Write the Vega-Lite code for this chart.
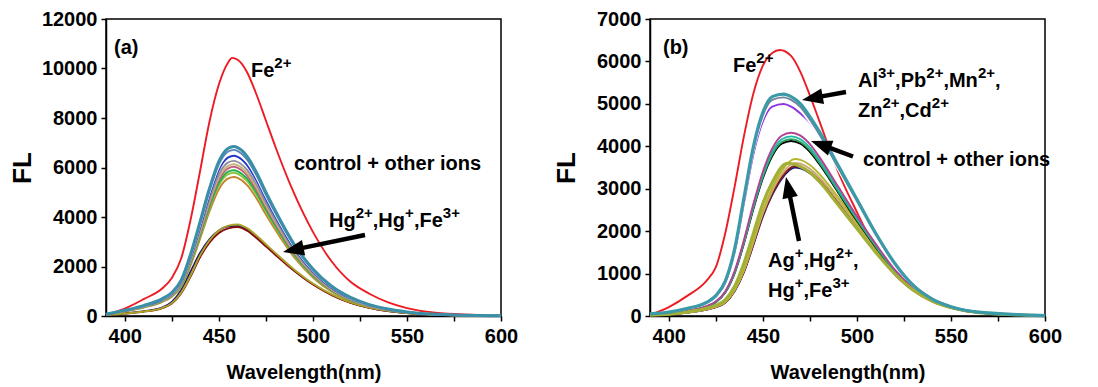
{
"$schema": "https://vega.github.io/schema/vega-lite/v6.json",
"background": "white",
"padding": {"left": 8, "top": 8, "right": 5, "bottom": 5},
"bounds": "flush",
"spacing": 149,
"resolve": {"scale": {"color": "independent", "x": "independent", "y": "independent"}},
"config": {
  "view": {"stroke": "black", "strokeWidth": 1.5},
  "font": "Liberation Sans",
  "axis": {"grid": false, "domainColor": "black", "domainWidth": 1.5, "tickColor": "black", "tickWidth": 1.5, "tickSize": 5, "labelColor": "black", "labelFont": "Liberation Sans", "labelFontSize": 20, "labelFontWeight": "bold", "titleColor": "black", "titleFont": "Liberation Sans", "titleFontWeight": "bold"},
  "axisX": {"labelPadding": 5, "titleFontSize": 20},
  "axisY": {"labelPadding": 4, "titleFontSize": 26}
},
"datasets": {
"lines_a": [
{"series":"Fe","nm":390,"fl":60},{"series":"Fe","nm":400,"fl":300},{"series":"Fe","nm":410,"fl":680},{"series":"Fe","nm":420,"fl":1120},{"series":"Fe","nm":425,"fl":1540},{"series":"Fe","nm":430,"fl":2330},{"series":"Fe","nm":435,"fl":3900},{"series":"Fe","nm":440,"fl":5850},{"series":"Fe","nm":445,"fl":7850},{"series":"Fe","nm":450,"fl":9350},{"series":"Fe","nm":455,"fl":10250},{"series":"Fe","nm":457,"fl":10430},{"series":"Fe","nm":460,"fl":10350},{"series":"Fe","nm":465,"fl":9850},{"series":"Fe","nm":470,"fl":8950},{"series":"Fe","nm":475,"fl":7900},{"series":"Fe","nm":480,"fl":6850},{"series":"Fe","nm":490,"fl":4950},{"series":"Fe","nm":500,"fl":3400},{"series":"Fe","nm":510,"fl":2200},{"series":"Fe","nm":520,"fl":1380},{"series":"Fe","nm":530,"fl":900},{"series":"Fe","nm":540,"fl":550},{"series":"Fe","nm":550,"fl":320},{"series":"Fe","nm":565,"fl":130},{"series":"Fe","nm":600,"fl":10},
{"series":"h1","nm":390,"fl":40},{"series":"h1","nm":400,"fl":105},{"series":"h1","nm":410,"fl":190},{"series":"h1","nm":420,"fl":350},{"series":"h1","nm":425,"fl":570},{"series":"h1","nm":430,"fl":1050},{"series":"h1","nm":435,"fl":1800},{"series":"h1","nm":440,"fl":2550},{"series":"h1","nm":445,"fl":3100},{"series":"h1","nm":450,"fl":3450},{"series":"h1","nm":455,"fl":3620},{"series":"h1","nm":460,"fl":3640},{"series":"h1","nm":465,"fl":3500},{"series":"h1","nm":470,"fl":3200},{"series":"h1","nm":475,"fl":2860},{"series":"h1","nm":480,"fl":2510},{"series":"h1","nm":490,"fl":1850},{"series":"h1","nm":500,"fl":1290},{"series":"h1","nm":510,"fl":857},{"series":"h1","nm":520,"fl":542},{"series":"h1","nm":530,"fl":335},{"series":"h1","nm":540,"fl":202},{"series":"h1","nm":550,"fl":118},{"series":"h1","nm":565,"fl":54},{"series":"h1","nm":600,"fl":5},
{"series":"h2","nm":390,"fl":38},{"series":"h2","nm":400,"fl":97},{"series":"h2","nm":410,"fl":175},{"series":"h2","nm":420,"fl":320},{"series":"h2","nm":425,"fl":505},{"series":"h2","nm":430,"fl":920},{"series":"h2","nm":435,"fl":1600},{"series":"h2","nm":440,"fl":2375},{"series":"h2","nm":445,"fl":2960},{"series":"h2","nm":450,"fl":3350},{"series":"h2","nm":455,"fl":3540},{"series":"h2","nm":460,"fl":3590},{"series":"h2","nm":465,"fl":3445},{"series":"h2","nm":470,"fl":3150},{"series":"h2","nm":475,"fl":2815},{"series":"h2","nm":480,"fl":2475},{"series":"h2","nm":490,"fl":1825},{"series":"h2","nm":500,"fl":1270},{"series":"h2","nm":510,"fl":845},{"series":"h2","nm":520,"fl":535},{"series":"h2","nm":530,"fl":330},{"series":"h2","nm":540,"fl":199},{"series":"h2","nm":550,"fl":116},{"series":"h2","nm":565,"fl":53},{"series":"h2","nm":600,"fl":5},
{"series":"h3","nm":390,"fl":40},{"series":"h3","nm":400,"fl":100},{"series":"h3","nm":410,"fl":180},{"series":"h3","nm":420,"fl":330},{"series":"h3","nm":425,"fl":520},{"series":"h3","nm":430,"fl":950},{"series":"h3","nm":435,"fl":1650},{"series":"h3","nm":440,"fl":2450},{"series":"h3","nm":445,"fl":3050},{"series":"h3","nm":450,"fl":3450},{"series":"h3","nm":455,"fl":3650},{"series":"h3","nm":460,"fl":3700},{"series":"h3","nm":465,"fl":3550},{"series":"h3","nm":470,"fl":3250},{"series":"h3","nm":475,"fl":2900},{"series":"h3","nm":480,"fl":2550},{"series":"h3","nm":490,"fl":1880},{"series":"h3","nm":500,"fl":1310},{"series":"h3","nm":510,"fl":870},{"series":"h3","nm":520,"fl":550},{"series":"h3","nm":530,"fl":340},{"series":"h3","nm":540,"fl":205},{"series":"h3","nm":550,"fl":120},{"series":"h3","nm":565,"fl":55},{"series":"h3","nm":600,"fl":5},
{"series":"c10","nm":390,"fl":60},{"series":"c10","nm":400,"fl":189},{"series":"c10","nm":410,"fl":344},{"series":"c10","nm":420,"fl":574},{"series":"c10","nm":425,"fl":779},{"series":"c10","nm":430,"fl":1189},{"series":"c10","nm":435,"fl":2050},{"series":"c10","nm":440,"fl":3116},{"series":"c10","nm":445,"fl":4223},{"series":"c10","nm":450,"fl":5125},{"series":"c10","nm":455,"fl":5560},{"series":"c10","nm":458,"fl":5617},{"series":"c10","nm":460,"fl":5576},{"series":"c10","nm":465,"fl":5289},{"series":"c10","nm":470,"fl":4756},{"series":"c10","nm":475,"fl":4100},{"series":"c10","nm":480,"fl":3485},{"series":"c10","nm":490,"fl":2378},{"series":"c10","nm":500,"fl":1558},{"series":"c10","nm":510,"fl":984},{"series":"c10","nm":520,"fl":615},{"series":"c10","nm":530,"fl":377},{"series":"c10","nm":540,"fl":230},{"series":"c10","nm":550,"fl":135},{"series":"c10","nm":565,"fl":57},{"series":"c10","nm":600,"fl":7},
{"series":"c9","nm":390,"fl":62},{"series":"c9","nm":400,"fl":194},{"series":"c9","nm":410,"fl":355},{"series":"c9","nm":420,"fl":592},{"series":"c9","nm":425,"fl":803},{"series":"c9","nm":430,"fl":1225},{"series":"c9","nm":435,"fl":2113},{"series":"c9","nm":440,"fl":3211},{"series":"c9","nm":445,"fl":4352},{"series":"c9","nm":450,"fl":5281},{"series":"c9","nm":455,"fl":5729},{"series":"c9","nm":458,"fl":5788},{"series":"c9","nm":460,"fl":5746},{"series":"c9","nm":465,"fl":5450},{"series":"c9","nm":470,"fl":4901},{"series":"c9","nm":475,"fl":4225},{"series":"c9","nm":480,"fl":3591},{"series":"c9","nm":490,"fl":2451},{"series":"c9","nm":500,"fl":1606},{"series":"c9","nm":510,"fl":1014},{"series":"c9","nm":520,"fl":634},{"series":"c9","nm":530,"fl":389},{"series":"c9","nm":540,"fl":237},{"series":"c9","nm":550,"fl":139},{"series":"c9","nm":565,"fl":59},{"series":"c9","nm":600,"fl":7},
{"series":"c8","nm":390,"fl":63},{"series":"c8","nm":400,"fl":198},{"series":"c8","nm":410,"fl":361},{"series":"c8","nm":420,"fl":602},{"series":"c8","nm":425,"fl":817},{"series":"c8","nm":430,"fl":1247},{"series":"c8","nm":435,"fl":2150},{"series":"c8","nm":440,"fl":3268},{"series":"c8","nm":445,"fl":4429},{"series":"c8","nm":450,"fl":5375},{"series":"c8","nm":455,"fl":5831},{"series":"c8","nm":458,"fl":5891},{"series":"c8","nm":460,"fl":5848},{"series":"c8","nm":465,"fl":5547},{"series":"c8","nm":470,"fl":4988},{"series":"c8","nm":475,"fl":4300},{"series":"c8","nm":480,"fl":3655},{"series":"c8","nm":490,"fl":2494},{"series":"c8","nm":500,"fl":1634},{"series":"c8","nm":510,"fl":1032},{"series":"c8","nm":520,"fl":645},{"series":"c8","nm":530,"fl":396},{"series":"c8","nm":540,"fl":241},{"series":"c8","nm":550,"fl":142},{"series":"c8","nm":565,"fl":60},{"series":"c8","nm":600,"fl":7},
{"series":"c7","nm":390,"fl":64},{"series":"c7","nm":400,"fl":202},{"series":"c7","nm":410,"fl":370},{"series":"c7","nm":420,"fl":616},{"series":"c7","nm":425,"fl":836},{"series":"c7","nm":430,"fl":1276},{"series":"c7","nm":435,"fl":2200},{"series":"c7","nm":440,"fl":3344},{"series":"c7","nm":445,"fl":4532},{"series":"c7","nm":450,"fl":5500},{"series":"c7","nm":455,"fl":5966},{"series":"c7","nm":458,"fl":6028},{"series":"c7","nm":460,"fl":5984},{"series":"c7","nm":465,"fl":5676},{"series":"c7","nm":470,"fl":5104},{"series":"c7","nm":475,"fl":4400},{"series":"c7","nm":480,"fl":3740},{"series":"c7","nm":490,"fl":2552},{"series":"c7","nm":500,"fl":1672},{"series":"c7","nm":510,"fl":1056},{"series":"c7","nm":520,"fl":660},{"series":"c7","nm":530,"fl":405},{"series":"c7","nm":540,"fl":246},{"series":"c7","nm":550,"fl":145},{"series":"c7","nm":565,"fl":62},{"series":"c7","nm":600,"fl":7},
{"series":"c6","nm":390,"fl":65},{"series":"c6","nm":400,"fl":206},{"series":"c6","nm":410,"fl":376},{"series":"c6","nm":420,"fl":627},{"series":"c6","nm":425,"fl":850},{"series":"c6","nm":430,"fl":1298},{"series":"c6","nm":435,"fl":2238},{"series":"c6","nm":440,"fl":3401},{"series":"c6","nm":445,"fl":4609},{"series":"c6","nm":450,"fl":5594},{"series":"c6","nm":455,"fl":6068},{"series":"c6","nm":458,"fl":6131},{"series":"c6","nm":460,"fl":6086},{"series":"c6","nm":465,"fl":5773},{"series":"c6","nm":470,"fl":5191},{"series":"c6","nm":475,"fl":4475},{"series":"c6","nm":480,"fl":3804},{"series":"c6","nm":490,"fl":2596},{"series":"c6","nm":500,"fl":1701},{"series":"c6","nm":510,"fl":1074},{"series":"c6","nm":520,"fl":671},{"series":"c6","nm":530,"fl":412},{"series":"c6","nm":540,"fl":251},{"series":"c6","nm":550,"fl":148},{"series":"c6","nm":565,"fl":63},{"series":"c6","nm":600,"fl":7},
{"series":"c5","nm":390,"fl":66},{"series":"c5","nm":400,"fl":210},{"series":"c5","nm":410,"fl":384},{"series":"c5","nm":420,"fl":641},{"series":"c5","nm":425,"fl":869},{"series":"c5","nm":430,"fl":1327},{"series":"c5","nm":435,"fl":2288},{"series":"c5","nm":440,"fl":3477},{"series":"c5","nm":445,"fl":4712},{"series":"c5","nm":450,"fl":5719},{"series":"c5","nm":455,"fl":6204},{"series":"c5","nm":458,"fl":6268},{"series":"c5","nm":460,"fl":6222},{"series":"c5","nm":465,"fl":5902},{"series":"c5","nm":470,"fl":5307},{"series":"c5","nm":475,"fl":4575},{"series":"c5","nm":480,"fl":3889},{"series":"c5","nm":490,"fl":2654},{"series":"c5","nm":500,"fl":1739},{"series":"c5","nm":510,"fl":1098},{"series":"c5","nm":520,"fl":686},{"series":"c5","nm":530,"fl":421},{"series":"c5","nm":540,"fl":256},{"series":"c5","nm":550,"fl":151},{"series":"c5","nm":565,"fl":64},{"series":"c5","nm":600,"fl":7},
{"series":"c4","nm":390,"fl":68},{"series":"c4","nm":400,"fl":217},{"series":"c4","nm":410,"fl":397},{"series":"c4","nm":420,"fl":662},{"series":"c4","nm":425,"fl":898},{"series":"c4","nm":430,"fl":1370},{"series":"c4","nm":435,"fl":2363},{"series":"c4","nm":440,"fl":3591},{"series":"c4","nm":445,"fl":4867},{"series":"c4","nm":450,"fl":5906},{"series":"c4","nm":455,"fl":6407},{"series":"c4","nm":458,"fl":6473},{"series":"c4","nm":460,"fl":6426},{"series":"c4","nm":465,"fl":6095},{"series":"c4","nm":470,"fl":5481},{"series":"c4","nm":475,"fl":4725},{"series":"c4","nm":480,"fl":4016},{"series":"c4","nm":490,"fl":2741},{"series":"c4","nm":500,"fl":1796},{"series":"c4","nm":510,"fl":1134},{"series":"c4","nm":520,"fl":709},{"series":"c4","nm":530,"fl":435},{"series":"c4","nm":540,"fl":265},{"series":"c4","nm":550,"fl":156},{"series":"c4","nm":565,"fl":66},{"series":"c4","nm":600,"fl":8},
{"series":"c3","nm":390,"fl":70},{"series":"c3","nm":400,"fl":222},{"series":"c3","nm":410,"fl":405},{"series":"c3","nm":420,"fl":676},{"series":"c3","nm":425,"fl":917},{"series":"c3","nm":430,"fl":1399},{"series":"c3","nm":435,"fl":2413},{"series":"c3","nm":440,"fl":3667},{"series":"c3","nm":445,"fl":4970},{"series":"c3","nm":450,"fl":6031},{"series":"c3","nm":455,"fl":6543},{"series":"c3","nm":458,"fl":6610},{"series":"c3","nm":460,"fl":6562},{"series":"c3","nm":465,"fl":6224},{"series":"c3","nm":470,"fl":5597},{"series":"c3","nm":475,"fl":4825},{"series":"c3","nm":480,"fl":4101},{"series":"c3","nm":490,"fl":2799},{"series":"c3","nm":500,"fl":1834},{"series":"c3","nm":510,"fl":1158},{"series":"c3","nm":520,"fl":724},{"series":"c3","nm":530,"fl":444},{"series":"c3","nm":540,"fl":270},{"series":"c3","nm":550,"fl":159},{"series":"c3","nm":565,"fl":68},{"series":"c3","nm":600,"fl":8},
{"series":"c2","nm":390,"fl":71},{"series":"c2","nm":400,"fl":225},{"series":"c2","nm":410,"fl":412},{"series":"c2","nm":420,"fl":686},{"series":"c2","nm":425,"fl":931},{"series":"c2","nm":430,"fl":1421},{"series":"c2","nm":435,"fl":2450},{"series":"c2","nm":440,"fl":3724},{"series":"c2","nm":445,"fl":5047},{"series":"c2","nm":450,"fl":6125},{"series":"c2","nm":455,"fl":6644},{"series":"c2","nm":458,"fl":6713},{"series":"c2","nm":460,"fl":6664},{"series":"c2","nm":465,"fl":6321},{"series":"c2","nm":470,"fl":5684},{"series":"c2","nm":475,"fl":4900},{"series":"c2","nm":480,"fl":4165},{"series":"c2","nm":490,"fl":2842},{"series":"c2","nm":500,"fl":1862},{"series":"c2","nm":510,"fl":1176},{"series":"c2","nm":520,"fl":735},{"series":"c2","nm":530,"fl":451},{"series":"c2","nm":540,"fl":274},{"series":"c2","nm":550,"fl":162},{"series":"c2","nm":565,"fl":69},{"series":"c2","nm":600,"fl":8},
{"series":"c1","nm":390,"fl":72},{"series":"c1","nm":400,"fl":230},{"series":"c1","nm":410,"fl":420},{"series":"c1","nm":420,"fl":700},{"series":"c1","nm":425,"fl":950},{"series":"c1","nm":430,"fl":1450},{"series":"c1","nm":435,"fl":2500},{"series":"c1","nm":440,"fl":3800},{"series":"c1","nm":445,"fl":5150},{"series":"c1","nm":450,"fl":6250},{"series":"c1","nm":455,"fl":6780},{"series":"c1","nm":458,"fl":6850},{"series":"c1","nm":460,"fl":6800},{"series":"c1","nm":465,"fl":6450},{"series":"c1","nm":470,"fl":5800},{"series":"c1","nm":475,"fl":5000},{"series":"c1","nm":480,"fl":4250},{"series":"c1","nm":490,"fl":2900},{"series":"c1","nm":500,"fl":1900},{"series":"c1","nm":510,"fl":1200},{"series":"c1","nm":520,"fl":750},{"series":"c1","nm":530,"fl":460},{"series":"c1","nm":540,"fl":280},{"series":"c1","nm":550,"fl":165},{"series":"c1","nm":565,"fl":70},{"series":"c1","nm":600,"fl":8}
],
"lines_b": [
{"series":"Fe","nm":390,"fl":25},{"series":"Fe","nm":400,"fl":210},{"series":"Fe","nm":410,"fl":480},{"series":"Fe","nm":420,"fl":830},{"series":"Fe","nm":425,"fl":1150},{"series":"Fe","nm":430,"fl":1950},{"series":"Fe","nm":435,"fl":3050},{"series":"Fe","nm":440,"fl":4250},{"series":"Fe","nm":445,"fl":5250},{"series":"Fe","nm":450,"fl":5900},{"series":"Fe","nm":455,"fl":6200},{"series":"Fe","nm":459,"fl":6270},{"series":"Fe","nm":465,"fl":6130},{"series":"Fe","nm":470,"fl":5750},{"series":"Fe","nm":475,"fl":5200},{"series":"Fe","nm":480,"fl":4600},{"series":"Fe","nm":490,"fl":3400},{"series":"Fe","nm":500,"fl":2450},{"series":"Fe","nm":510,"fl":1580},{"series":"Fe","nm":520,"fl":990},{"series":"Fe","nm":530,"fl":600},{"series":"Fe","nm":540,"fl":345},{"series":"Fe","nm":550,"fl":200},{"series":"Fe","nm":565,"fl":80},{"series":"Fe","nm":600,"fl":10},
{"series":"L4","nm":390,"fl":18},{"series":"L4","nm":400,"fl":38},{"series":"L4","nm":410,"fl":80},{"series":"L4","nm":420,"fl":151},{"series":"L4","nm":425,"fl":208},{"series":"L4","nm":430,"fl":312},{"series":"L4","nm":435,"fl":586},{"series":"L4","nm":440,"fl":1040},{"series":"L4","nm":445,"fl":1682},{"series":"L4","nm":450,"fl":2344},{"series":"L4","nm":455,"fl":2854},{"series":"L4","nm":460,"fl":3232},{"series":"L4","nm":467,"fl":3497},{"series":"L4","nm":470,"fl":3478},{"series":"L4","nm":475,"fl":3364},{"series":"L4","nm":480,"fl":3166},{"series":"L4","nm":490,"fl":2646},{"series":"L4","nm":500,"fl":2079},{"series":"L4","nm":510,"fl":1512},{"series":"L4","nm":520,"fl":1002},{"series":"L4","nm":530,"fl":605},{"series":"L4","nm":540,"fl":350},{"series":"L4","nm":550,"fl":194},{"series":"L4","nm":565,"fl":76},{"series":"L4","nm":600,"fl":9},
{"series":"L3","nm":390,"fl":18},{"series":"L3","nm":400,"fl":38},{"series":"L3","nm":410,"fl":81},{"series":"L3","nm":420,"fl":153},{"series":"L3","nm":425,"fl":210},{"series":"L3","nm":430,"fl":315},{"series":"L3","nm":435,"fl":592},{"series":"L3","nm":440,"fl":1051},{"series":"L3","nm":445,"fl":1700},{"series":"L3","nm":450,"fl":2368},{"series":"L3","nm":455,"fl":2884},{"series":"L3","nm":460,"fl":3266},{"series":"L3","nm":467,"fl":3534},{"series":"L3","nm":470,"fl":3514},{"series":"L3","nm":475,"fl":3400},{"series":"L3","nm":480,"fl":3199},{"series":"L3","nm":490,"fl":2674},{"series":"L3","nm":500,"fl":2101},{"series":"L3","nm":510,"fl":1528},{"series":"L3","nm":520,"fl":1012},{"series":"L3","nm":530,"fl":611},{"series":"L3","nm":540,"fl":353},{"series":"L3","nm":550,"fl":196},{"series":"L3","nm":565,"fl":76},{"series":"L3","nm":600,"fl":10},
{"series":"L2","nm":390,"fl":19},{"series":"L2","nm":400,"fl":39},{"series":"L2","nm":410,"fl":83},{"series":"L2","nm":420,"fl":156},{"series":"L2","nm":425,"fl":215},{"series":"L2","nm":430,"fl":322},{"series":"L2","nm":435,"fl":605},{"series":"L2","nm":440,"fl":1073},{"series":"L2","nm":445,"fl":1736},{"series":"L2","nm":450,"fl":2418},{"series":"L2","nm":455,"fl":2945},{"series":"L2","nm":460,"fl":3335},{"series":"L2","nm":467,"fl":3608},{"series":"L2","nm":470,"fl":3588},{"series":"L2","nm":475,"fl":3471},{"series":"L2","nm":480,"fl":3266},{"series":"L2","nm":490,"fl":2730},{"series":"L2","nm":500,"fl":2145},{"series":"L2","nm":510,"fl":1560},{"series":"L2","nm":520,"fl":1034},{"series":"L2","nm":530,"fl":624},{"series":"L2","nm":540,"fl":361},{"series":"L2","nm":550,"fl":200},{"series":"L2","nm":565,"fl":78},{"series":"L2","nm":600,"fl":10},
{"series":"L1","nm":390,"fl":19},{"series":"L1","nm":400,"fl":40},{"series":"L1","nm":410,"fl":85},{"series":"L1","nm":420,"fl":160},{"series":"L1","nm":425,"fl":220},{"series":"L1","nm":430,"fl":330},{"series":"L1","nm":435,"fl":620},{"series":"L1","nm":440,"fl":1100},{"series":"L1","nm":445,"fl":1780},{"series":"L1","nm":450,"fl":2480},{"series":"L1","nm":455,"fl":3020},{"series":"L1","nm":460,"fl":3420},{"series":"L1","nm":467,"fl":3700},{"series":"L1","nm":470,"fl":3680},{"series":"L1","nm":475,"fl":3560},{"series":"L1","nm":480,"fl":3350},{"series":"L1","nm":490,"fl":2800},{"series":"L1","nm":500,"fl":2200},{"series":"L1","nm":510,"fl":1600},{"series":"L1","nm":520,"fl":1060},{"series":"L1","nm":530,"fl":640},{"series":"L1","nm":540,"fl":370},{"series":"L1","nm":550,"fl":205},{"series":"L1","nm":565,"fl":80},{"series":"L1","nm":600,"fl":10},
{"series":"L5","nm":390,"fl":24},{"series":"L5","nm":400,"fl":45},{"series":"L5","nm":410,"fl":95},{"series":"L5","nm":420,"fl":180},{"series":"L5","nm":425,"fl":250},{"series":"L5","nm":430,"fl":380},{"series":"L5","nm":435,"fl":700},{"series":"L5","nm":440,"fl":1250},{"series":"L5","nm":445,"fl":1950},{"series":"L5","nm":450,"fl":2650},{"series":"L5","nm":455,"fl":3150},{"series":"L5","nm":463,"fl":3600},{"series":"L5","nm":470,"fl":3520},{"series":"L5","nm":475,"fl":3380},{"series":"L5","nm":480,"fl":3170},{"series":"L5","nm":490,"fl":2620},{"series":"L5","nm":500,"fl":2060},{"series":"L5","nm":510,"fl":1500},{"series":"L5","nm":520,"fl":1000},{"series":"L5","nm":530,"fl":610},{"series":"L5","nm":540,"fl":355},{"series":"L5","nm":550,"fl":200},{"series":"L5","nm":565,"fl":78},{"series":"L5","nm":600,"fl":10},
{"series":"M4","nm":390,"fl":22},{"series":"M4","nm":400,"fl":53},{"series":"M4","nm":410,"fl":115},{"series":"M4","nm":420,"fl":220},{"series":"M4","nm":425,"fl":325},{"series":"M4","nm":430,"fl":554},{"series":"M4","nm":435,"fl":1012},{"series":"M4","nm":440,"fl":1719},{"series":"M4","nm":445,"fl":2531},{"series":"M4","nm":450,"fl":3247},{"series":"M4","nm":455,"fl":3772},{"series":"M4","nm":460,"fl":4059},{"series":"M4","nm":465,"fl":4126},{"series":"M4","nm":470,"fl":4059},{"series":"M4","nm":475,"fl":3868},{"series":"M4","nm":480,"fl":3581},{"series":"M4","nm":490,"fl":2913},{"series":"M4","nm":500,"fl":2244},{"series":"M4","nm":510,"fl":1624},{"series":"M4","nm":520,"fl":1051},{"series":"M4","nm":530,"fl":630},{"series":"M4","nm":540,"fl":363},{"series":"M4","nm":550,"fl":201},{"series":"M4","nm":565,"fl":81},{"series":"M4","nm":600,"fl":10},
{"series":"M3","nm":390,"fl":22},{"series":"M3","nm":400,"fl":53},{"series":"M3","nm":410,"fl":116},{"series":"M3","nm":420,"fl":222},{"series":"M3","nm":425,"fl":328},{"series":"M3","nm":430,"fl":560},{"series":"M3","nm":435,"fl":1023},{"series":"M3","nm":440,"fl":1737},{"series":"M3","nm":445,"fl":2557},{"series":"M3","nm":450,"fl":3281},{"series":"M3","nm":455,"fl":3812},{"series":"M3","nm":460,"fl":4101},{"series":"M3","nm":465,"fl":4169},{"series":"M3","nm":470,"fl":4101},{"series":"M3","nm":475,"fl":3908},{"series":"M3","nm":480,"fl":3619},{"series":"M3","nm":490,"fl":2943},{"series":"M3","nm":500,"fl":2268},{"series":"M3","nm":510,"fl":1641},{"series":"M3","nm":520,"fl":1062},{"series":"M3","nm":530,"fl":637},{"series":"M3","nm":540,"fl":367},{"series":"M3","nm":550,"fl":203},{"series":"M3","nm":565,"fl":82},{"series":"M3","nm":600,"fl":10},
{"series":"M2","nm":390,"fl":23},{"series":"M2","nm":400,"fl":54},{"series":"M2","nm":410,"fl":118},{"series":"M2","nm":420,"fl":225},{"series":"M2","nm":425,"fl":333},{"series":"M2","nm":430,"fl":568},{"series":"M2","nm":435,"fl":1039},{"series":"M2","nm":440,"fl":1764},{"series":"M2","nm":445,"fl":2597},{"series":"M2","nm":450,"fl":3332},{"series":"M2","nm":455,"fl":3871},{"series":"M2","nm":460,"fl":4165},{"series":"M2","nm":465,"fl":4234},{"series":"M2","nm":470,"fl":4165},{"series":"M2","nm":475,"fl":3969},{"series":"M2","nm":480,"fl":3675},{"series":"M2","nm":490,"fl":2989},{"series":"M2","nm":500,"fl":2303},{"series":"M2","nm":510,"fl":1666},{"series":"M2","nm":520,"fl":1078},{"series":"M2","nm":530,"fl":647},{"series":"M2","nm":540,"fl":372},{"series":"M2","nm":550,"fl":206},{"series":"M2","nm":565,"fl":83},{"series":"M2","nm":600,"fl":10},
{"series":"M1","nm":390,"fl":23},{"series":"M1","nm":400,"fl":55},{"series":"M1","nm":410,"fl":120},{"series":"M1","nm":420,"fl":230},{"series":"M1","nm":425,"fl":340},{"series":"M1","nm":430,"fl":580},{"series":"M1","nm":435,"fl":1060},{"series":"M1","nm":440,"fl":1800},{"series":"M1","nm":445,"fl":2650},{"series":"M1","nm":450,"fl":3400},{"series":"M1","nm":455,"fl":3950},{"series":"M1","nm":460,"fl":4250},{"series":"M1","nm":465,"fl":4320},{"series":"M1","nm":470,"fl":4250},{"series":"M1","nm":475,"fl":4050},{"series":"M1","nm":480,"fl":3750},{"series":"M1","nm":490,"fl":3050},{"series":"M1","nm":500,"fl":2350},{"series":"M1","nm":510,"fl":1700},{"series":"M1","nm":520,"fl":1100},{"series":"M1","nm":530,"fl":660},{"series":"M1","nm":540,"fl":380},{"series":"M1","nm":550,"fl":210},{"series":"M1","nm":565,"fl":85},{"series":"M1","nm":600,"fl":10},
{"series":"H4","nm":390,"fl":45},{"series":"H4","nm":400,"fl":86},{"series":"H4","nm":410,"fl":172},{"series":"H4","nm":420,"fl":306},{"series":"H4","nm":425,"fl":458},{"series":"H4","nm":430,"fl":783},{"series":"H4","nm":435,"fl":1509},{"series":"H4","nm":440,"fl":2674},{"series":"H4","nm":445,"fl":3820},{"series":"H4","nm":450,"fl":4584},{"series":"H4","nm":455,"fl":4937},{"series":"H4","nm":461,"fl":4995},{"series":"H4","nm":465,"fl":4937},{"series":"H4","nm":470,"fl":4775},{"series":"H4","nm":475,"fl":4560},{"series":"H4","nm":480,"fl":4250},{"series":"H4","nm":490,"fl":3480},{"series":"H4","nm":500,"fl":2720},{"series":"H4","nm":510,"fl":1940},{"series":"H4","nm":520,"fl":1250},{"series":"H4","nm":530,"fl":730},{"series":"H4","nm":540,"fl":410},{"series":"H4","nm":550,"fl":225},{"series":"H4","nm":565,"fl":88},{"series":"H4","nm":600,"fl":10},
{"series":"H3","nm":390,"fl":46},{"series":"H3","nm":400,"fl":87},{"series":"H3","nm":410,"fl":175},{"series":"H3","nm":420,"fl":310},{"series":"H3","nm":425,"fl":466},{"series":"H3","nm":430,"fl":795},{"series":"H3","nm":435,"fl":1533},{"series":"H3","nm":440,"fl":2716},{"series":"H3","nm":445,"fl":3880},{"series":"H3","nm":450,"fl":4656},{"series":"H3","nm":455,"fl":5015},{"series":"H3","nm":461,"fl":5073},{"series":"H3","nm":465,"fl":5015},{"series":"H3","nm":470,"fl":4850},{"series":"H3","nm":475,"fl":4559},{"series":"H3","nm":480,"fl":4220},{"series":"H3","nm":490,"fl":3444},{"series":"H3","nm":500,"fl":2668},{"series":"H3","nm":510,"fl":1892},{"series":"H3","nm":520,"fl":1213},{"series":"H3","nm":530,"fl":698},{"series":"H3","nm":540,"fl":388},{"series":"H3","nm":550,"fl":213},{"series":"H3","nm":565,"fl":87},{"series":"H3","nm":600,"fl":10},
{"series":"H2","nm":390,"fl":47},{"series":"H2","nm":400,"fl":89},{"series":"H2","nm":410,"fl":177},{"series":"H2","nm":420,"fl":315},{"series":"H2","nm":425,"fl":473},{"series":"H2","nm":430,"fl":808},{"series":"H2","nm":435,"fl":1556},{"series":"H2","nm":440,"fl":2758},{"series":"H2","nm":445,"fl":3940},{"series":"H2","nm":450,"fl":4728},{"series":"H2","nm":455,"fl":5092},{"series":"H2","nm":461,"fl":5152},{"series":"H2","nm":465,"fl":5092},{"series":"H2","nm":470,"fl":4925},{"series":"H2","nm":475,"fl":4630},{"series":"H2","nm":480,"fl":4285},{"series":"H2","nm":490,"fl":3497},{"series":"H2","nm":500,"fl":2709},{"series":"H2","nm":510,"fl":1921},{"series":"H2","nm":520,"fl":1231},{"series":"H2","nm":530,"fl":709},{"series":"H2","nm":540,"fl":394},{"series":"H2","nm":550,"fl":217},{"series":"H2","nm":565,"fl":89},{"series":"H2","nm":600,"fl":10},
{"series":"H1","nm":390,"fl":48},{"series":"H1","nm":400,"fl":90},{"series":"H1","nm":410,"fl":180},{"series":"H1","nm":420,"fl":320},{"series":"H1","nm":425,"fl":480},{"series":"H1","nm":430,"fl":820},{"series":"H1","nm":435,"fl":1580},{"series":"H1","nm":440,"fl":2800},{"series":"H1","nm":445,"fl":4000},{"series":"H1","nm":450,"fl":4800},{"series":"H1","nm":455,"fl":5170},{"series":"H1","nm":461,"fl":5230},{"series":"H1","nm":465,"fl":5170},{"series":"H1","nm":470,"fl":5000},{"series":"H1","nm":475,"fl":4700},{"series":"H1","nm":480,"fl":4350},{"series":"H1","nm":490,"fl":3550},{"series":"H1","nm":500,"fl":2750},{"series":"H1","nm":510,"fl":1950},{"series":"H1","nm":520,"fl":1250},{"series":"H1","nm":530,"fl":720},{"series":"H1","nm":540,"fl":400},{"series":"H1","nm":550,"fl":220},{"series":"H1","nm":565,"fl":90},{"series":"H1","nm":600,"fl":10}
],
"labels_a": [
{"label":"(a)","part":"base","nm":394.25,"fl":10827},
{"label":"Fe","part":"base","nm":467.1,"fl":9898},
{"label":"2+","part":"sup","nm":479.5,"fl":9898},
{"label":"control + other ions","part":"base","nm":489.9,"fl":6141},
{"label":"Hg","part":"base","nm":508.55,"fl":3838},
{"label":"2+","part":"sup","nm":522.75,"fl":3838},
{"label":",Hg","part":"base","nm":531.84,"fl":3838},
{"label":"+","part":"sup","nm":549.01,"fl":3838},
{"label":",Fe","part":"base","nm":553.69,"fl":3838},
{"label":"3+","part":"sup","nm":569.06,"fl":3838}
],
"labels_b": [
{"label":"(b)","part":"base","nm":396.9,"fl":6317},
{"label":"Fe","part":"base","nm":434.13,"fl":5893},
{"label":"2+","part":"sup","nm":446.51,"fl":5893},
{"label":"Al","part":"base","nm":500.58,"fl":5539},
{"label":"3+","part":"sup","nm":511.21,"fl":5539},
{"label":",Pb","part":"base","nm":520.3,"fl":5539},
{"label":"2+","part":"sup","nm":536.89,"fl":5539},
{"label":",Mn","part":"base","nm":545.98,"fl":5539},
{"label":"2+","part":"sup","nm":564.32,"fl":5539},
{"label":",","part":"base","nm":573.41,"fl":5539},
{"label":"Zn","part":"base","nm":500.58,"fl":4832},
{"label":"2+","part":"sup","nm":513.55,"fl":4832},
{"label":",Cd","part":"base","nm":522.64,"fl":4832},
{"label":"2+","part":"sup","nm":539.81,"fl":4832},
{"label":"control + other ions","part":"base","nm":503.24,"fl":3677},
{"label":"Ag","part":"base","nm":452.73,"fl":1296},
{"label":"+","part":"sup","nm":466.93,"fl":1296},
{"label":",Hg","part":"base","nm":471.61,"fl":1296},
{"label":"2+","part":"sup","nm":488.78,"fl":1296},
{"label":",","part":"base","nm":497.87,"fl":1296},
{"label":"Hg","part":"base","nm":452.73,"fl":589},
{"label":"+","part":"sup","nm":466.93,"fl":589},
{"label":",Fe","part":"base","nm":471.61,"fl":589},
{"label":"3+","part":"sup","nm":486.97,"fl":589}
],
"arrows_a": [
{"id":"a1","tx":527.69,"ty":3272,"bx":494.52,"by":2751,"hx":484.1,"hy":2586}
],
"arrows_b": [
{"id":"b1","tx":494.2,"ty":5280,"bx":481.28,"by":5176,"hx":470.81,"hy":5091},
{"id":"b2","tx":497.92,"ty":3759,"bx":485.59,"by":3962,"hx":475.59,"hy":4125},
{"id":"b3","tx":469.21,"ty":1768,"bx":464.43,"by":2814,"hx":462.3,"hy":3276}
]
},
"hconcat": [
{
 "width": 395, "height": 297,
 "layer": [
  {
   "data": {"name": "lines_a"},
   "transform": [{"filter": "datum.series != 'c1'"}],
   "mark": {"type": "line", "interpolate": "monotone", "strokeWidth": 1.9},
   "encoding": {
    "x": {"field": "nm", "type": "quantitative", "title": "Wavelength(nm)", "scale": {"domain": [390, 600], "nice": false, "zero": false},
      "axis": {"values": [400,425,450,475,500,525,550,575,600], "labelExpr": "datum.value % 50 === 0 ? datum.label : ''", "labelOverlap": false, "labelFlush": false, "labelBound": false, "titleY": 46, "titleBaseline": "top"}},
    "y": {"field": "fl", "type": "quantitative", "title": "FL", "scale": {"domain": [0, 12000], "nice": false},
      "axis": {"values": [0,1000,2000,3000,4000,5000,6000,7000,8000,9000,10000,11000,12000], "format": "d", "labelExpr": "datum.value % 2000 === 0 ? datum.label : ''", "labelOverlap": false, "labelFlush": false, "labelBound": false, "titleX": -84, "titleBaseline": "middle"}},
    "color": {"field": "series", "type": "nominal", "legend": null,
      "scale": {"domain": ["Fe","h1","h2","h3","c10","c9","c8","c7","c6","c5","c4","c3","c2","c1"],
                "range": ["#ed1c24","#1b1b6e","#8b0a0a","#aaa52a","#c4832e","#8cc63f","#22b04b","#c0607e","#c8b27a","#8f8f9e","#2436c8","#ffffff","#5a86bb","#3a8ea6"]}}
   }
  },
  {
   "data": {"name": "lines_a"},
   "transform": [{"filter": "datum.series == 'c1'"}],
   "mark": {"type": "line", "interpolate": "monotone", "strokeWidth": 3},
   "encoding": {
    "x": {"field": "nm", "type": "quantitative", "title": "Wavelength(nm)"},
    "y": {"field": "fl", "type": "quantitative", "title": "FL"},
    "color": {"field": "series", "type": "nominal", "legend": null}
   }
  },
  {
   "data": {"name": "labels_a"},
   "transform": [{"filter": "datum.part == 'base'"}],
   "mark": {"type": "text", "align": "left", "baseline": "middle", "font": "Liberation Sans", "fontWeight": "bold", "fontSize": 20, "color": "black"},
   "encoding": {
    "x": {"field": "nm", "type": "quantitative", "title": "Wavelength(nm)"},
    "y": {"field": "fl", "type": "quantitative", "title": "FL"},
    "text": {"field": "label", "type": "nominal"}
   }
  },
  {
   "data": {"name": "labels_a"},
   "transform": [{"filter": "datum.part == 'sup'"}],
   "mark": {"type": "text", "align": "left", "baseline": "middle", "font": "Liberation Sans", "fontWeight": "bold", "fontSize": 15, "dy": -8, "color": "black"},
   "encoding": {
    "x": {"field": "nm", "type": "quantitative", "title": "Wavelength(nm)"},
    "y": {"field": "fl", "type": "quantitative", "title": "FL"},
    "text": {"field": "label", "type": "nominal"}
   }
  },
  {
   "data": {"name": "arrows_a"},
   "mark": {"type": "rule", "strokeWidth": 4.5, "color": "black", "strokeCap": "butt"},
   "encoding": {
    "x": {"field": "tx", "type": "quantitative", "title": "Wavelength(nm)"},
    "y": {"field": "ty", "type": "quantitative", "title": "FL"},
    "x2": {"field": "bx"},
    "y2": {"field": "by"}
   }
  },
  {
   "data": {"name": "arrows_a"},
   "mark": {"type": "point", "shape": "M0,0L0.75,2L-0.75,2Z", "filled": true, "color": "black", "opacity": 1, "size": 441, "angle": 258.3, "strokeWidth": 0},
   "encoding": {
    "x": {"field": "hx", "type": "quantitative", "title": "Wavelength(nm)"},
    "y": {"field": "hy", "type": "quantitative", "title": "FL"}
   }
  }
 ]
},
{
 "width": 395, "height": 297,
 "layer": [
  {
   "data": {"name": "lines_b"},
   "transform": [{"filter": "datum.series != 'H1' && datum.series != 'L5'"}],
   "mark": {"type": "line", "interpolate": "monotone", "strokeWidth": 1.9},
   "encoding": {
    "x": {"field": "nm", "type": "quantitative", "title": "Wavelength(nm)", "scale": {"domain": [390, 600], "nice": false, "zero": false},
      "axis": {"values": [400,425,450,475,500,525,550,575,600], "labelExpr": "datum.value % 50 === 0 ? datum.label : ''", "labelOverlap": false, "labelFlush": false, "labelBound": false, "titleY": 46, "titleBaseline": "top"}},
    "y": {"field": "fl", "type": "quantitative", "title": "FL", "scale": {"domain": [0, 7000], "nice": false},
      "axis": {"values": [0,500,1000,1500,2000,2500,3000,3500,4000,4500,5000,5500,6000,6500,7000], "format": "d", "labelExpr": "datum.value % 1000 === 0 ? datum.label : ''", "labelOverlap": false, "labelFlush": false, "labelBound": false, "titleX": -84, "titleBaseline": "middle"}},
    "color": {"field": "series", "type": "nominal", "legend": null,
      "scale": {"domain": ["Fe","L4","L3","L2","L1","L5","M4","M3","M2","M1","H4","H3","H2","H1"],
                "range": ["#ed1c24","#1b1b7a","#8b1a1a","#c9ab6e","#b5b530","#a3b035","#000000","#2ca25a","#1fb8aa","#b4428f","#8f35e0","#ffffff","#6e8299","#3b9aa8"]}}
   }
  },
  {
   "data": {"name": "lines_b"},
   "transform": [{"filter": "datum.series == 'H1' || datum.series == 'L5'"}],
   "mark": {"type": "line", "interpolate": "monotone", "strokeWidth": 3.2},
   "encoding": {
    "x": {"field": "nm", "type": "quantitative", "title": "Wavelength(nm)"},
    "y": {"field": "fl", "type": "quantitative", "title": "FL"},
    "color": {"field": "series", "type": "nominal", "legend": null}
   }
  },
  {
   "data": {"name": "labels_b"},
   "transform": [{"filter": "datum.part == 'base'"}],
   "mark": {"type": "text", "align": "left", "baseline": "middle", "font": "Liberation Sans", "fontWeight": "bold", "fontSize": 20, "color": "black"},
   "encoding": {
    "x": {"field": "nm", "type": "quantitative", "title": "Wavelength(nm)"},
    "y": {"field": "fl", "type": "quantitative", "title": "FL"},
    "text": {"field": "label", "type": "nominal"}
   }
  },
  {
   "data": {"name": "labels_b"},
   "transform": [{"filter": "datum.part == 'sup'"}],
   "mark": {"type": "text", "align": "left", "baseline": "middle", "font": "Liberation Sans", "fontWeight": "bold", "fontSize": 15, "dy": -8, "color": "black"},
   "encoding": {
    "x": {"field": "nm", "type": "quantitative", "title": "Wavelength(nm)"},
    "y": {"field": "fl", "type": "quantitative", "title": "FL"},
    "text": {"field": "label", "type": "nominal"}
   }
  },
  {
   "data": {"name": "arrows_b"},
   "mark": {"type": "rule", "strokeWidth": 4.5, "color": "black", "strokeCap": "butt"},
   "encoding": {
    "x": {"field": "tx", "type": "quantitative", "title": "Wavelength(nm)"},
    "y": {"field": "ty", "type": "quantitative", "title": "FL"},
    "x2": {"field": "bx"},
    "y2": {"field": "by"}
   }
  },
  {
   "data": {"name": "arrows_b"},
   "transform": [{"filter": "datum.id == 'b1'"}],
   "mark": {"type": "point", "shape": "M0,0L0.75,2L-0.75,2Z", "filled": true, "color": "black", "opacity": 1, "size": 441, "angle": 259.7, "strokeWidth": 0},
   "encoding": {
    "x": {"field": "hx", "type": "quantitative", "title": "Wavelength(nm)"},
    "y": {"field": "hy", "type": "quantitative", "title": "FL"}
   }
  },
  {
   "data": {"name": "arrows_b"},
   "transform": [{"filter": "datum.id == 'b2'"}],
   "mark": {"type": "point", "shape": "M0,0L0.75,2L-0.75,2Z", "filled": true, "color": "black", "opacity": 1, "size": 441, "angle": 290.2, "strokeWidth": 0},
   "encoding": {
    "x": {"field": "hx", "type": "quantitative", "title": "Wavelength(nm)"},
    "y": {"field": "hy", "type": "quantitative", "title": "FL"}
   }
  },
  {
   "data": {"name": "arrows_b"},
   "transform": [{"filter": "datum.id == 'b3'"}],
   "mark": {"type": "point", "shape": "M0,0L0.75,2L-0.75,2Z", "filled": true, "color": "black", "opacity": 1, "size": 441, "angle": 348.5, "strokeWidth": 0},
   "encoding": {
    "x": {"field": "hx", "type": "quantitative", "title": "Wavelength(nm)"},
    "y": {"field": "hy", "type": "quantitative", "title": "FL"}
   }
  }
 ]
}
]
}
